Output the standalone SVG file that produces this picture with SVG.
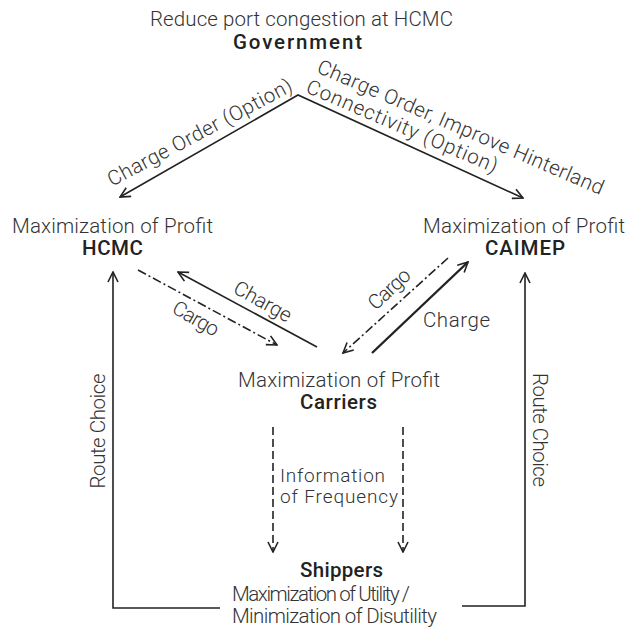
<svg xmlns="http://www.w3.org/2000/svg" width="627" height="628" viewBox="0 0 627 628">
<style>
.t{font-family:Roboto,"Liberation Sans",sans-serif;font-weight:300;font-size:20.5px;fill:#333}
.s{font-size:19px}
.b{font-family:Roboto,"Liberation Sans",sans-serif;font-weight:500;font-size:20.5px;fill:#222}
.ln{fill:none;stroke:#222;stroke-width:1.6}
.dd{stroke-dasharray:9 3 2 3}
.da{stroke-dasharray:8 4}
</style>
<defs>
<marker id="ah" viewBox="0 0 12 12" refX="11" refY="6" markerWidth="12" markerHeight="12" markerUnits="userSpaceOnUse" orient="auto-start-reverse">
<path d="M1,1 L11,6 L1,11" fill="none" stroke="#222" stroke-width="1.6" stroke-dasharray="none"/>
</marker>
</defs>
<rect width="627" height="628" fill="#fff"/>
<g id="connectors">
<path class="ln" d="M120,197 L298,95 L523,198" marker-start="url(#ah)" marker-end="url(#ah)"/>
<path class="ln" d="M317,347 L178,272" marker-end="url(#ah)"/>
<path class="ln dd" d="M138,270 L277,345" marker-end="url(#ah)"/>
<path class="ln" style="stroke-width:2.4" d="M372,353 L468,262" marker-end="url(#ah)"/>
<path class="ln dd" d="M448,258 L343,353" marker-end="url(#ah)"/>
<path class="ln da" d="M273,427 L273,552" marker-end="url(#ah)"/>
<path class="ln da" d="M403,427 L403,552" marker-end="url(#ah)"/>
<path class="ln" d="M220,608 L113,608 L113,272" marker-end="url(#ah)"/>
<path class="ln" d="M462,606 L525,606 L525,273" marker-end="url(#ah)"/>
<text class="t" text-anchor="middle" transform="translate(203,138.5) rotate(-28)" textLength="206" lengthAdjust="spacing">Charge Order (Option)</text>
<text class="t" text-anchor="middle" transform="translate(458,133.5) rotate(23.4)" textLength="310" lengthAdjust="spacing">Charge Order, Improve Hinterland</text>
<text class="t" text-anchor="middle" transform="translate(399.5,132.5) rotate(23.2)" textLength="206" lengthAdjust="spacing">Connectivity  (Option)</text>
<text class="t" text-anchor="middle" transform="translate(259.5,307.5) rotate(29)" textLength="63" lengthAdjust="spacing">Charge</text>
<text class="t" text-anchor="middle" transform="translate(192.5,324.5) rotate(30)" textLength="50" lengthAdjust="spacing">Cargo</text>
<text class="t" text-anchor="middle" transform="translate(394,294) rotate(-43)" textLength="50" lengthAdjust="spacing">Cargo</text>
<text class="t" x="423" y="327" textLength="67" lengthAdjust="spacing">Charge</text>
<text class="t s" x="280" y="482" textLength="105" lengthAdjust="spacing">Information</text>
<text class="t s" x="280" y="503" textLength="118" lengthAdjust="spacing">of Frequency</text>
<text class="t" text-anchor="middle" transform="translate(105,431) rotate(-90)" textLength="115" lengthAdjust="spacing">Route Choice</text>
<text class="t" text-anchor="middle" transform="translate(533,430) rotate(90)" textLength="114" lengthAdjust="spacing">Route Choice</text>
</g>
<g id="government">
<text class="t" x="150" y="26" textLength="303" lengthAdjust="spacing">Reduce port congestion at HCMC</text>
<text class="b" x="233" y="49" textLength="129" lengthAdjust="spacing">Government</text>
</g>
<g id="hcmc">
<text class="t" x="12" y="233" textLength="201" lengthAdjust="spacing">Maximization of Profit</text>
<text class="b" x="82" y="255" textLength="61" lengthAdjust="spacing">HCMC</text>
</g>
<g id="caimep">
<text class="t" x="423" y="233" textLength="202" lengthAdjust="spacing">Maximization of Profit</text>
<text class="b" x="485" y="255" textLength="80" lengthAdjust="spacing">CAIMEP</text>
</g>
<g id="carriers">
<text class="t" x="238" y="387" textLength="202" lengthAdjust="spacing">Maximization of Profit</text>
<text class="b" x="300" y="409" textLength="77" lengthAdjust="spacing">Carriers</text>
</g>
<g id="shippers">
<text class="b" x="300" y="577" textLength="83" lengthAdjust="spacing">Shippers</text>
<text class="t" x="232" y="601" textLength="178" lengthAdjust="spacing">Maximization of Utility /</text>
<text class="t" x="232" y="623" textLength="205" lengthAdjust="spacing">Minimization of Disutility</text>
</g>
</svg>
